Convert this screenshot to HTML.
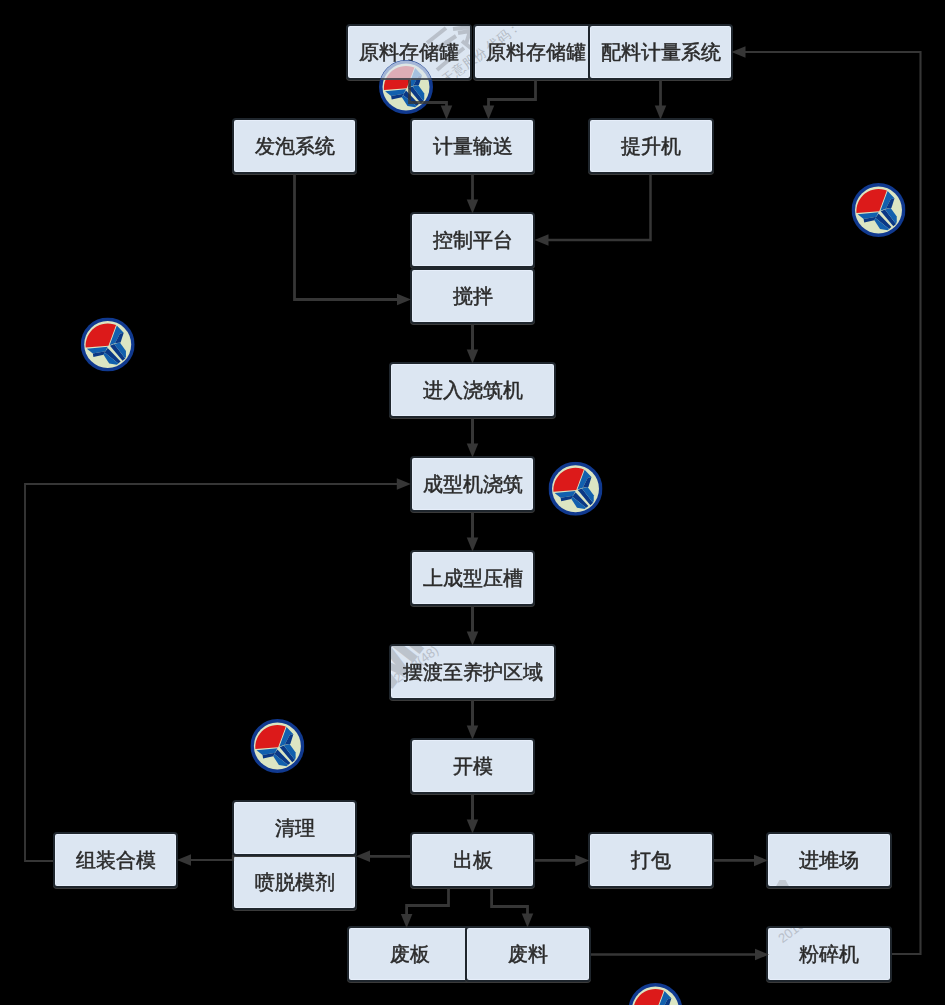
<!DOCTYPE html>
<html><head><meta charset="utf-8"><style>
html,body{margin:0;padding:0;background:#000;}
body{width:945px;height:1005px;position:relative;overflow:hidden;}
.b{position:absolute;box-sizing:border-box;border:2px solid #1f262d;border-radius:4px;background:#dce6f2;
 font-family:"Liberation Sans",sans-serif;font-size:20px;color:#2b2b2b;display:flex;align-items:center;justify-content:center;white-space:nowrap;
 box-shadow:0 1px 0 #3a3a3a, inset 0 0 0 1px #e6eefa;-webkit-text-stroke:0.5px #2b2b2b;}
svg{position:absolute;left:0;top:0;}
</style></head><body>
<div class="b" style="left:346px;top:24px;width:126px;height:56px"><span style="position:relative;z-index:3;will-change:transform">原料存储罐</span></div>
<div class="b" style="left:473px;top:24px;width:125px;height:56px"><span style="position:relative;z-index:3;will-change:transform">原料存储罐</span></div>
<div class="b" style="left:588px;top:24px;width:145px;height:56px"><span style="position:relative;z-index:3;will-change:transform">配料计量系统</span></div>
<div class="b" style="left:232px;top:118px;width:125px;height:56px"><span style="position:relative;z-index:3;will-change:transform">发泡系统</span></div>
<div class="b" style="left:410px;top:118px;width:125px;height:56px"><span style="position:relative;z-index:3;will-change:transform">计量输送</span></div>
<div class="b" style="left:588px;top:118px;width:126px;height:56px"><span style="position:relative;z-index:3;will-change:transform">提升机</span></div>
<div class="b" style="left:410px;top:212px;width:125px;height:56px"><span style="position:relative;z-index:3;will-change:transform">控制平台</span></div>
<div class="b" style="left:410px;top:268px;width:125px;height:56px"><span style="position:relative;z-index:3;will-change:transform">搅拌</span></div>
<div class="b" style="left:389px;top:362px;width:167px;height:56px"><span style="position:relative;z-index:3;will-change:transform">进入浇筑机</span></div>
<div class="b" style="left:410px;top:456px;width:125px;height:56px"><span style="position:relative;z-index:3;will-change:transform">成型机浇筑</span></div>
<div class="b" style="left:410px;top:550px;width:125px;height:56px"><span style="position:relative;z-index:3;will-change:transform">上成型压槽</span></div>
<div class="b" style="left:389px;top:644px;width:167px;height:56px"><span style="position:relative;z-index:3;will-change:transform">摆渡至养护区域</span></div>
<div class="b" style="left:410px;top:738px;width:125px;height:56px"><span style="position:relative;z-index:3;will-change:transform">开模</span></div>
<div class="b" style="left:410px;top:832px;width:125px;height:56px"><span style="position:relative;z-index:3;will-change:transform">出板</span></div>
<div class="b" style="left:232px;top:854px;width:125px;height:56px"><span style="position:relative;z-index:3;will-change:transform">喷脱模剂</span></div>
<div class="b" style="left:232px;top:800px;width:125px;height:56px"><span style="position:relative;z-index:3;will-change:transform">清理</span></div>
<div class="b" style="left:53px;top:832px;width:125px;height:56px"><span style="position:relative;z-index:3;will-change:transform">组装合模</span></div>
<div class="b" style="left:588px;top:832px;width:126px;height:56px"><span style="position:relative;z-index:3;will-change:transform">打包</span></div>
<div class="b" style="left:766px;top:832px;width:126px;height:56px"><span style="position:relative;z-index:3;will-change:transform">进堆场</span></div>
<div class="b" style="left:347px;top:926px;width:125px;height:56px"><span style="position:relative;z-index:3;will-change:transform">废板</span></div>
<div class="b" style="left:465px;top:926px;width:126px;height:56px"><span style="position:relative;z-index:3;will-change:transform">废料</span></div>
<div class="b" style="left:766px;top:926px;width:126px;height:56px"><span style="position:relative;z-index:3;will-change:transform">粉碎机</span></div>
<div style="position:absolute;left:0;top:0;width:945px;height:1005px;z-index:2;clip-path:path('M348 26h122v52h-122z M475 26h121v52h-121z M590 26h141v52h-141z M234 120h121v52h-121z M412 120h121v52h-121z M590 120h122v52h-122z M412 214h121v52h-121z M412 270h121v52h-121z M391 364h163v52h-163z M412 458h121v52h-121z M412 552h121v52h-121z M391 646h163v52h-163z M412 740h121v52h-121z M412 834h121v52h-121z M234 856h121v52h-121z M234 802h121v52h-121z M55 834h121v52h-121z M590 834h122v52h-122z M768 834h122v52h-122z M349 928h121v52h-121z M467 928h122v52h-122z M768 928h122v52h-122z')"><div style="position:absolute;left:481px;top:53px;width:0;height:0"><div style="position:absolute;left:0;top:0;transform:translate(-50%,-50%) rotate(-37deg);white-space:nowrap;font-family:'Liberation Sans',sans-serif;font-size:13px;font-weight:400;color:#b3bac4;line-height:1;-webkit-text-stroke:0px #b3bac4">天意股份 代码：</div></div><div style="position:absolute;left:402px;top:652px;width:0;height:0"><div style="position:absolute;left:0;top:0;transform:translate(-50%,-50%) rotate(-52deg);white-space:nowrap;font-family:'Liberation Sans',sans-serif;font-size:40px;font-weight:900;color:#bcc3cc;line-height:1;-webkit-text-stroke:2.2px #bcc3cc">WIM</div></div><div style="position:absolute;left:416px;top:664px;width:0;height:0"><div style="position:absolute;left:0;top:0;transform:translate(-50%,-50%) rotate(-37deg);white-space:nowrap;font-family:'Liberation Sans',sans-serif;font-size:13px;font-weight:400;color:#b9c0ca;line-height:1;-webkit-text-stroke:0px #b9c0ca">2018(48)</div></div><div style="position:absolute;left:793px;top:930px;width:0;height:0"><div style="position:absolute;left:0;top:0;transform:translate(-50%,-50%) rotate(-37deg);white-space:nowrap;font-family:'Liberation Sans',sans-serif;font-size:13px;font-weight:400;color:#b9c0ca;line-height:1;-webkit-text-stroke:0px #b9c0ca">2018(</div></div><div style="position:absolute;left:775px;top:880px;width:15px;height:8px;background:#c3cad3;clip-path:polygon(0 100%,30% 0,70% 0,100% 100%)"></div><svg width="945" height="1005" style="position:absolute;left:0;top:0"><g stroke="#b9c0ca" stroke-width="4" fill="none"><path d="M427 43 L446 28"/><path d="M435 50 L456 36"/><path d="M437 70 Q446 62 464 48"/><path d="M447 40 L452 52"/><path d="M453 29 L470 27 M458 33 L470 31 L466 44 M462 41 L472 49"/></g></svg></div>
<svg width="945" height="1005" style="z-index:5"><defs><symbol id="lg" viewBox="0 0 100 100">
<circle cx="50" cy="50" r="50" fill="#10398f"/>
<circle cx="50" cy="50" r="43.5" fill="#dbe5c3"/>
<path d="M9.2 55.6 L51.4 52.1 L65.5 14.1 A41 41 0 0 0 9.2 55.6Z" fill="#dc1a1a"/>
<polygon points="11.3,57.7 50,54.2 45.8,62.7 22.5,66.5" fill="#1260ae"/>
<polygon points="22.5,66.5 45.8,62.7 42.3,69 23.5,73" fill="#0a3886"/>
<polygon points="66.9,14.8 79.6,28.2 72.5,29.9 63.4,47.9 53.5,51.4" fill="#1260ae"/>
<polygon points="72.5,29.9 79.6,28.2 73.9,46.5 63.4,47.9" fill="#0a3886"/>
<polygon points="54.2,52.1 62,49.3 82.4,76 77.5,80.3" fill="#0a3886"/>
<polygon points="62,49.3 72.5,46.5 83.8,62 83.8,71.8 82.4,76" fill="#1260ae"/>
<polygon points="50,56.3 73.9,81.7 69.7,85.2 44.4,64.8" fill="#0a3886"/>
<polygon points="44.4,64.8 69.7,85.2 66.9,87.3 52.8,85.2 42.3,69" fill="#1260ae"/>
</symbol></defs><use href="#lg" x="379" y="60" width="54" height="54"/><use href="#lg" x="851.5" y="183" width="54" height="54"/><use href="#lg" x="80.7" y="317.5" width="54" height="54"/><use href="#lg" x="548.5" y="461.8" width="54" height="54"/><use href="#lg" x="250.4" y="719" width="54" height="54"/><use href="#lg" x="628.4" y="983" width="54" height="54"/></svg>
<svg width="945" height="1005" style="z-index:8"><defs><clipPath id="lc"><circle cx="405.8" cy="86.7" r="27"/></clipPath><mask id="lm"><rect width="945" height="1005" fill="#fff"/><circle cx="405.8" cy="86.7" r="27" fill="#000"/></mask></defs><g mask="url(#lm)"><polyline points="409.5,80 409.5,102.5 446.5,102.5 446.5,108" fill="none" stroke="#363636" stroke-width="2.8" stroke-linejoin="miter"/><polygon points="446.5,119.5 440.75,105.5 452.25,105.5" fill="#363636"/><polyline points="535.5,80 535.5,99.5 488.5,99.5 488.5,108" fill="none" stroke="#363636" stroke-width="2.8" stroke-linejoin="miter"/><polygon points="488.5,119.5 482.75,105.5 494.25,105.5" fill="#363636"/><polyline points="660.5,80 660.5,108" fill="none" stroke="#363636" stroke-width="2.8" stroke-linejoin="miter"/><polygon points="660.5,119.5 654.75,105.5 666.25,105.5" fill="#363636"/><polyline points="472.5,174 472.5,202" fill="none" stroke="#363636" stroke-width="2.8" stroke-linejoin="miter"/><polygon points="472.5,213.5 466.75,199.5 478.25,199.5" fill="#363636"/><polyline points="650.5,174 650.5,240 546,240" fill="none" stroke="#363636" stroke-width="2.5" stroke-linejoin="miter"/><polygon points="534.5,240 548.5,234.25 548.5,245.75" fill="#363636"/><polyline points="294.5,174 294.5,299.5 399,299.5" fill="none" stroke="#363636" stroke-width="2.8" stroke-linejoin="miter"/><polygon points="411,299.5 397,293.75 397,305.25" fill="#363636"/><polyline points="472.5,324 472.5,352" fill="none" stroke="#363636" stroke-width="3" stroke-linejoin="miter"/><polygon points="472.5,363.5 466.75,349.5 478.25,349.5" fill="#363636"/><polyline points="472.5,418 472.5,446" fill="none" stroke="#363636" stroke-width="3" stroke-linejoin="miter"/><polygon points="472.5,457.5 466.75,443.5 478.25,443.5" fill="#363636"/><polyline points="472.5,512 472.5,540" fill="none" stroke="#363636" stroke-width="3" stroke-linejoin="miter"/><polygon points="472.5,551.5 466.75,537.5 478.25,537.5" fill="#363636"/><polyline points="472.5,606 472.5,634" fill="none" stroke="#363636" stroke-width="3" stroke-linejoin="miter"/><polygon points="472.5,645.5 466.75,631.5 478.25,631.5" fill="#363636"/><polyline points="472.5,700 472.5,728" fill="none" stroke="#363636" stroke-width="3" stroke-linejoin="miter"/><polygon points="472.5,739.5 466.75,725.5 478.25,725.5" fill="#363636"/><polyline points="472.5,794 472.5,822" fill="none" stroke="#363636" stroke-width="3" stroke-linejoin="miter"/><polygon points="472.5,833.5 466.75,819.5 478.25,819.5" fill="#363636"/><polyline points="410,856.3 367,856.3" fill="none" stroke="#363636" stroke-width="2.8" stroke-linejoin="miter"/><polygon points="356,856.3 370,850.55 370,862.05" fill="#363636"/><polyline points="233,855 233,860 189,860" fill="none" stroke="#363636" stroke-width="2.2" stroke-linejoin="miter"/><polygon points="177,860 191,854.25 191,865.75" fill="#363636"/><polyline points="53,861 25,861 25,484 398,484" fill="none" stroke="#363636" stroke-width="1.9" stroke-linejoin="miter"/><polygon points="410.8,484 396.8,478.25 396.8,489.75" fill="#363636"/><polyline points="535,860.4 577,860.4" fill="none" stroke="#363636" stroke-width="2.8" stroke-linejoin="miter"/><polygon points="589.3,860.4 575.3,854.65 575.3,866.15" fill="#363636"/><polyline points="714,860.4 756,860.4" fill="none" stroke="#363636" stroke-width="2.8" stroke-linejoin="miter"/><polygon points="768,860.4 754,854.65 754,866.15" fill="#363636"/><polyline points="448.5,888 448.5,905.5 406.6,905.5 406.6,916" fill="none" stroke="#363636" stroke-width="2.8" stroke-linejoin="miter"/><polygon points="406.6,928 400.85,914 412.35,914" fill="#363636"/><polyline points="491.6,888 491.6,906.5 527.5,906.5 527.5,915" fill="none" stroke="#363636" stroke-width="2.8" stroke-linejoin="miter"/><polygon points="527.5,927.5 521.75,913.5 533.25,913.5" fill="#363636"/><polyline points="591,954.5 757,954.5" fill="none" stroke="#363636" stroke-width="2.6" stroke-linejoin="miter"/><polygon points="769,954.5 755,948.75 755,960.25" fill="#363636"/><polyline points="892,954 920.5,954 920.5,52 744,52" fill="none" stroke="#363636" stroke-width="2.1" stroke-linejoin="miter"/><polygon points="731.5,52 745.5,46.25 745.5,57.75" fill="#363636"/></g><g clip-path="url(#lc)" opacity="0.8"><polyline points="409.5,80 409.5,102.5 446.5,102.5 446.5,108" fill="none" stroke="#363636" stroke-width="2.8" stroke-linejoin="miter"/></g></svg>
<div style="position:absolute;left:346px;top:24px;width:126px;height:56px;box-sizing:border-box;border:2px solid rgba(34,42,49,0.75);border-radius:4px;background:rgba(222,230,242,0.72);z-index:6;clip-path:circle(26.5px at 60px 63px)"></div>
</body></html>
